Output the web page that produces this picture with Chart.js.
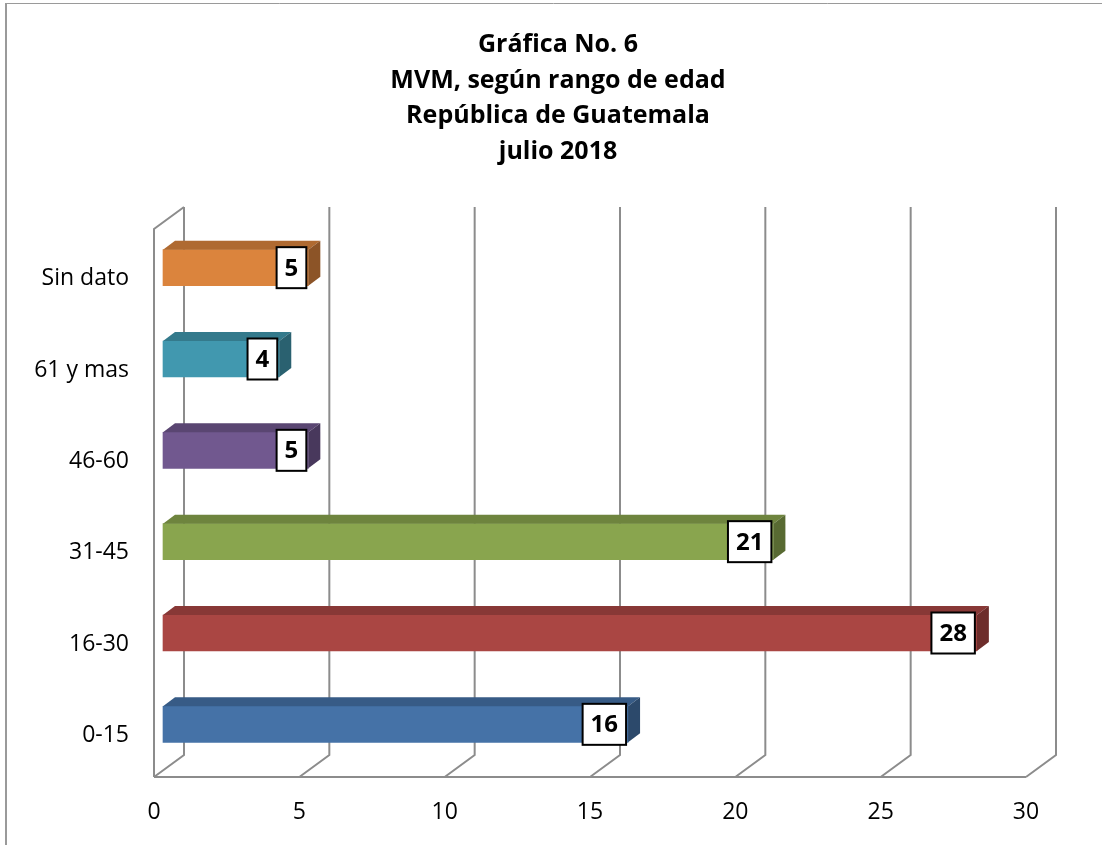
<!DOCTYPE html>
<html>
<head>
<meta charset="utf-8">
<script src="https://cdn.jsdelivr.net/npm/chart.js@4.4.1/dist/chart.umd.min.js"></script>
<style>
	html, body { margin: 0; padding: 0; background: #ffffff; }
	canvas { display: block; }
</style>
</head>
<body>
<canvas id="chart" width="1103" height="845"></canvas>
<script>
// data
const categories = ['0-15', '16-30', '31-45', '46-60', '61 y mas', 'Sin dato'];
const values = [16, 28, 21, 5, 4, 5];
const barColors = ['#4572A7', '#AA4643', '#89A54E', '#71588F', '#4198AF', '#DB843D'];
const xTicks = [0, 5, 10, 15, 20, 25, 30];
const titleLines = ['Gráfica No. 6', 'MVM, según rango de edad', 'República de Guatemala', 'julio 2018'];

const FONT = "'Open Sans', 'Noto Sans', sans-serif";
const WALL_COLOR = '#8c8c8c';
const WALL_DX = 30;
const WALL_DY = 22;
const BAR_SHIFT_X = 9;
const BAR_SHIFT_Y = -7;
const BAR_DX = 12;
const BAR_DY = 9;

// darken a hex colour by a factor
const shade = (hex, f) => {
	const n = parseInt(hex.slice(1), 16);
	const r = Math.round(((n >> 16) & 255) * f);
	const g = Math.round(((n >> 8) & 255) * f);
	const b = Math.round((n & 255) * f);
	return `rgb(${r},${g},${b})`;
};

// =====================================
// 3D WALLS + BAR FACES + TITLE
// =====================================

const threeD = {
	id: 'threeD',
	beforeDraw(chart) {
		const ctx = chart.ctx;
		ctx.save();
		// outer frame (only top + left show in the original)
		ctx.strokeStyle = '#9a9a9a';
		ctx.lineWidth = 1;
		ctx.beginPath();
		ctx.moveTo(5, 3.5);
		ctx.lineTo(1102, 3.5);
		ctx.stroke();
		ctx.lineWidth = 2;
		ctx.beginPath();
		ctx.moveTo(6, 3);
		ctx.lineTo(6, 845);
		ctx.stroke();

		// title: centred on the whole picture, not on the plot
		ctx.fillStyle = '#000000';
		ctx.font = `bold 25px ${FONT}`;
		ctx.textAlign = 'center';
		ctx.textBaseline = 'middle';
		titleLines.forEach((line, i) => {
			ctx.fillText(line, 558, 44.7 + i * 35.7);
		});
		ctx.restore();
	},
	beforeDatasetsDraw(chart) {
		const ctx = chart.ctx;
		const { top, bottom } = chart.chartArea;
		const xs = chart.scales.x;
		const x0 = xs.getPixelForValue(xTicks[0]);
		const xEnd = xs.getPixelForValue(xTicks[xTicks.length - 1]);

		ctx.save();
		ctx.strokeStyle = WALL_COLOR;
		ctx.lineWidth = 2;
		ctx.beginPath();
		// left wall
		ctx.moveTo(x0, bottom);
		ctx.lineTo(x0, top);
		ctx.lineTo(x0 + WALL_DX, top - WALL_DY);
		// floor front edge
		ctx.moveTo(x0, bottom);
		ctx.lineTo(xEnd, bottom);
		xTicks.forEach((v) => {
			const px = xs.getPixelForValue(v);
			ctx.moveTo(px, bottom);
			ctx.lineTo(px + WALL_DX, bottom - WALL_DY);
			ctx.lineTo(px + WALL_DX, top - WALL_DY);
		});
		ctx.stroke();
		ctx.restore();

		// bars sit a bit back from the front plane
		ctx.save();
		ctx.translate(BAR_SHIFT_X, BAR_SHIFT_Y);
	},
	afterDatasetsDraw(chart) {
		const ctx = chart.ctx;
		const meta = chart.getDatasetMeta(0);

		meta.data.forEach((bar, i) => {
			const { x, y, base, height } = bar.getProps(['x', 'y', 'base', 'height'], true);
			const t = y - height / 2;
			const b = y + height / 2;

			// top face
			ctx.fillStyle = shade(barColors[i], 0.8);
			ctx.beginPath();
			ctx.moveTo(base, t);
			ctx.lineTo(x, t);
			ctx.lineTo(x + BAR_DX, t - BAR_DY);
			ctx.lineTo(base + BAR_DX, t - BAR_DY);
			ctx.closePath();
			ctx.fill();

			// side face
			ctx.fillStyle = shade(barColors[i], 0.64);
			ctx.beginPath();
			ctx.moveTo(x, t);
			ctx.lineTo(x + BAR_DX, t - BAR_DY);
			ctx.lineTo(x + BAR_DX, b - BAR_DY);
			ctx.lineTo(x, b);
			ctx.closePath();
			ctx.fill();

			// value label in a white box
			const txt = String(values[i]);
			ctx.font = `bold 24px ${FONT}`;
			const w = ctx.measureText(txt).width + 16;
			const h = 41;
			const bx = x - 2 - w;
			const by = y - h / 2;
			ctx.fillStyle = '#ffffff';
			ctx.fillRect(bx, by, w, h);
			ctx.strokeStyle = '#000000';
			ctx.lineWidth = 2;
			ctx.strokeRect(bx, by, w, h);
			ctx.fillStyle = '#000000';
			ctx.textAlign = 'center';
			ctx.textBaseline = 'middle';
			ctx.fillText(txt, bx + w / 2, y + 1);
		});

		ctx.restore();
	},
};

new Chart(document.getElementById('chart'), {
	type: 'bar',
	data: {
		labels: categories,
		datasets: [
			{
				data: values,
				backgroundColor: barColors,
				borderWidth: 0,
				barThickness: 36,
				clip: false,
			},
		],
	},
	options: {
		indexAxis: 'y',
		responsive: false,
		animation: false,
		layout: {
			padding: { left: 0, right: 77, top: 229, bottom: 0 },
		},
		plugins: {
			legend: { display: false },
			tooltip: { enabled: false },
			title: { display: false },
		},
		scales: {
			x: {
				min: 0,
				max: 30,
				afterBuildTicks: (scale) => {
					scale.ticks = xTicks.map((v) => ({ value: v }));
				},
				afterFit: (scale) => {
					scale.height = 68;
				},
				grid: { display: false, drawTicks: false },
				border: { display: false },
				ticks: {
					color: '#000000',
					padding: 22,
					font: { family: FONT, size: 23 },
				},
			},
			y: {
				reverse: true,
				afterFit: (scale) => {
					scale.width = 154;
				},
				grid: { display: false, drawTicks: false },
				border: { display: false },
				ticks: {
					color: '#000000',
					padding: 25,
					labelOffset: 4,
					font: { family: FONT, size: 23 },
				},
			},
		},
	},
	plugins: [threeD],
});
</script>
</body>
</html>
